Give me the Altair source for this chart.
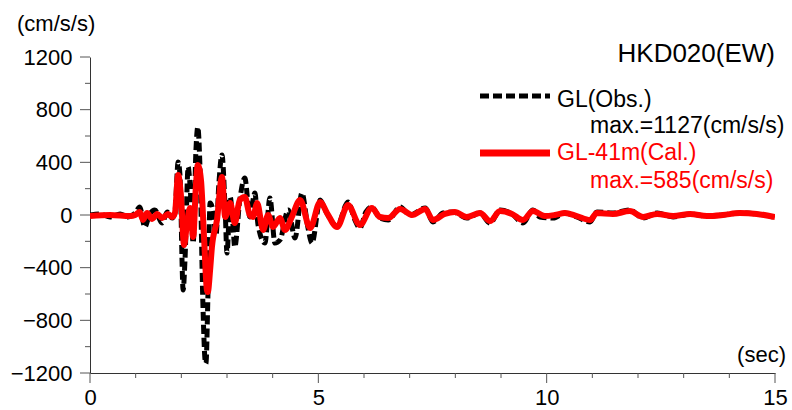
import altair as alt
import pandas as pd

# Observed record at GL (EW component)
t_obs = [0.00, 0.22, 0.44, 0.66, 0.83, 0.99, 1.09, 1.20, 1.31, 1.42, 1.58, 1.69, 1.80, 1.86,
         1.93, 1.97, 2.04, 2.08, 2.15, 2.19, 2.26, 2.32, 2.36, 2.41, 2.47, 2.52, 2.54, 2.58,
         2.63, 2.69, 2.76, 2.82, 2.89, 2.96, 3.00, 3.07, 3.13, 3.17, 3.28, 3.39, 3.50, 3.61,
         3.68, 3.83, 3.94, 4.05, 4.16, 4.34, 4.49, 4.64, 4.77, 4.86, 5.04, 5.15, 5.41, 5.65,
         5.80, 5.91, 6.04, 6.17, 6.35, 6.53, 6.79, 7.01, 7.34, 7.51, 7.73, 7.95, 8.25, 8.54,
         8.76, 8.98, 9.24, 9.48, 9.70, 9.85, 10.14, 10.40, 10.66, 10.95, 11.10, 11.45, 11.82,
         12.11, 12.42, 12.77, 13.14, 13.51, 13.86, 14.23, 14.60, 14.96]
acc_obs = [0, 8, -15, 8, -15, 15, 61, -91, 8, 38, -61, 23, -23, 23,
           403, 304, -570, -342, 365, 228, -213, 494, 668, 342, -646, -1101, -1127, -646,
           91, 38, -152, 228, 456, 38, -289, 137, -76, -243, 114, 281, -15, 167,
           -76, -213, 129, -213, -190, 38, -175, 167, -91, -213, 114, 38, -84, 99,
           -38, -99, 23, 61, -23, -38, 61, 0, 53, -53, 15, 23, -23, 15,
           -61, 38, 8, -61, 38, -15, -23, 15, -15, -53, 23, 15, 38,
           -23, 15, -15, 8, -8, 0, 15, 8, -15]

# Calculated response at GL-41m
t_cal = [0.00, 0.44, 0.88, 0.99, 1.09, 1.16, 1.25, 1.36, 1.47, 1.58, 1.71, 1.80, 1.86,
         1.93, 1.99, 2.06, 2.12, 2.19, 2.26, 2.32, 2.36, 2.43, 2.50, 2.56, 2.58, 2.63, 2.67,
         2.78, 2.89, 2.96, 3.07, 3.17, 3.28, 3.39, 3.50, 3.57, 3.66, 3.79, 3.90, 4.01, 4.16,
         4.27, 4.42, 4.60, 4.82, 5.04, 5.19, 5.41, 5.65, 5.91, 6.17, 6.35, 6.53, 6.79, 7.05,
         7.34, 7.51, 7.77, 7.99, 8.25, 8.54, 8.76, 8.98, 9.24, 9.48, 9.70, 9.96, 10.18, 10.40,
         10.66, 10.95, 11.10, 11.45, 11.82, 12.11, 12.42, 12.77, 13.14, 13.51, 13.86, 14.23,
         14.60, 15.00]
acc_cal = [-8, 0, -8, 0, 23, -38, 15, -30, 8, -23, 8, -15, 15,
           304, 152, -228, -76, 53, -167, 228, 380, 266, -190, -570, -585, -418, -243,
           -38, 289, -15, 91, -61, 114, 137, 0, -15, 91, -114, 0, -91, -23,
           -114, -15, 114, -99, 99, 15, -91, 76, -76, 53, -15, -23, 46, 0,
           46, -38, 8, 23, -15, 15, -46, 30, 8, -38, 30, -8, 0, 15,
           -8, -38, 15, 8, 30, -15, 8, -8, 8, -8, 0, 15,
           8, -15]

station = "HKD020(EW)"
series_names = ["GL(Obs.)", "GL-41m(Cal.)"]
unit = "(cm/s/s)"
time_unit = "(sec)"

x_major = [0, 5, 10, 15]
x_minor = [1, 2, 3, 4, 6, 7, 8, 9, 11, 12, 13, 14]
y_major = [-1200, -800, -400, 0, 400, 800, 1200]
y_minor = [-1000, -600, -200, 200, 600, 1000]

obs_max = int(round(max(abs(v) for v in acc_obs)))
cal_max = int(round(max(abs(v) for v in acc_cal)))

FONT = "Liberation Sans"
AXIS_GREY = "#333333"
TICK_GREY = "#555555"

obs_df = pd.DataFrame({"t": t_obs, "acc": acc_obs})
cal_df = pd.DataFrame({"t": t_cal, "acc": acc_cal})

x_scale = alt.Scale(domain=[0, 15], nice=False, zero=False)
y_scale = alt.Scale(domain=[-1200, 1200], nice=False)

x_enc = alt.X(
    "t:Q",
    scale=x_scale,
    axis=alt.Axis(
        title=None, values=x_major, grid=False, ticks=False,
        labelFlush=False, labelPadding=14,
    ),
)
y_enc = alt.Y(
    "acc:Q",
    scale=y_scale,
    axis=alt.Axis(
        title=None, values=y_major, grid=False, ticks=False,
        format="d", labelPadding=18,
    ),
)

obs_line = alt.Chart(obs_df).mark_line(
    color="black", strokeWidth=5, strokeDash=[9, 4], strokeCap="butt",
    interpolate="monotone", clip=True,
).encode(x=x_enc, y=y_enc)

cal_line = alt.Chart(cal_df).mark_line(
    color="#ff0000", strokeWidth=6, strokeJoin="round",
    interpolate="monotone", clip=True,
).encode(x="t:Q", y="acc:Q")


def x_ticks(values, length):
    return alt.Chart(pd.DataFrame({"v": values})).mark_rule(
        color=TICK_GREY, strokeWidth=1
    ).encode(
        x=alt.X("v:Q", scale=x_scale),
        y=alt.value(316), y2=alt.value(316 + length),
    )


def y_ticks(values, length):
    return alt.Chart(pd.DataFrame({"v": values})).mark_rule(
        color=TICK_GREY, strokeWidth=1
    ).encode(
        y=alt.Y("v:Q", scale=y_scale),
        x=alt.value(-length), x2=alt.value(0),
    )


def text_layer(s, x, y, size, align="left", color="black"):
    return alt.Chart(pd.DataFrame({"s": [s]})).mark_text(
        align=align, baseline="alphabetic", font=FONT, fontSize=size, color=color
    ).encode(text="s:N", x=alt.value(x), y=alt.value(y))


def key_line(y, color, width, dash=None):
    props = dict(color=color, strokeWidth=width, strokeCap="butt")
    if dash:
        props["strokeDash"] = dash
    return alt.Chart(pd.DataFrame({"k": [0]})).mark_rule(**props).encode(
        x=alt.value(390), x2=alt.value(460), y=alt.value(y)
    )


layers = [
    x_ticks(x_major, 10),
    x_ticks(x_minor, 5),
    y_ticks(y_major, 10),
    y_ticks(y_minor, 5),
    obs_line,
    cal_line,
    text_layer(station, 685, 5, 26, align="right"),
    key_line(39, "black", 5, [9, 4]),
    text_layer(series_names[0], 467, 50, 23),
    text_layer(f"max.={obs_max}(cm/s/s)", 500, 76, 23),
    key_line(96, "#ff0000", 7),
    text_layer(series_names[1], 467, 103, 23, color="#ff0000"),
    text_layer(f"max.={cal_max}(cm/s/s)", 500, 131, 23, color="#ff0000"),
    text_layer(unit, -73, -26, 22),
    text_layer(time_unit, 696, 305, 22, align="right"),
]

chart = (
    alt.layer(*layers)
    .properties(
        width=685,
        height=316,
        padding={"left": 90, "top": 57, "right": 17, "bottom": 37},
        autosize=alt.AutoSizeParams(type="none"),
        background="white",
    )
    .configure_view(stroke=None)
    .configure_axis(
        labelFont=FONT,
        labelFontSize=22,
        labelColor="black",
        domainColor=AXIS_GREY,
        domainWidth=1,
    )
)

chart.save("out.html", embed_options={"renderer": "svg", "actions": False})
